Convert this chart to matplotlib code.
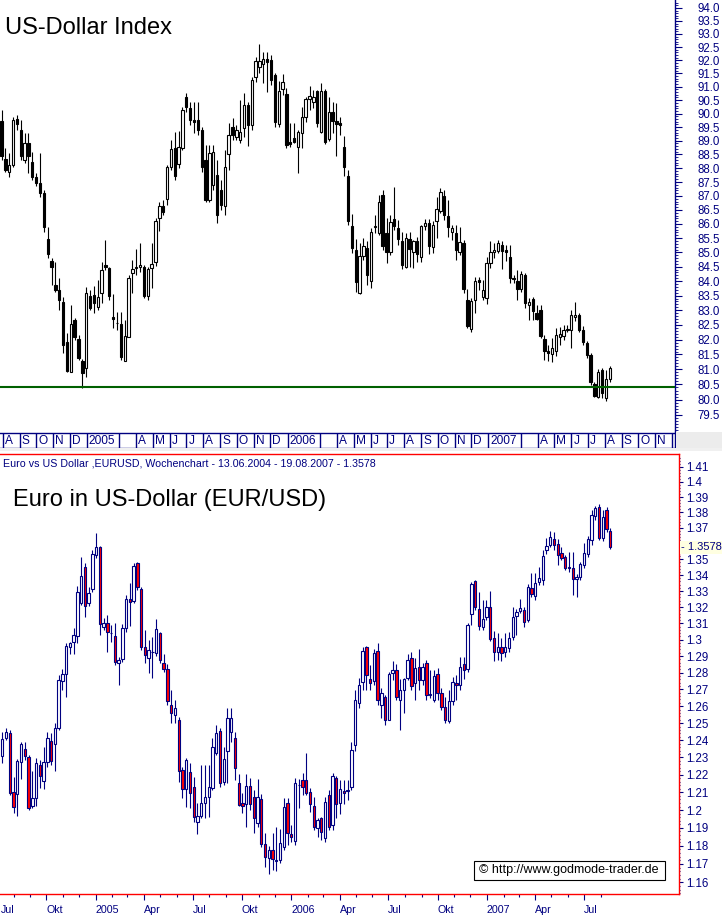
import numpy as np
import matplotlib
matplotlib.use("Agg")
import matplotlib.pyplot as plt
import matplotlib.dates as mdates
import matplotlib.transforms as mtransforms
from matplotlib.patches import Rectangle
from matplotlib.ticker import FixedLocator, NullFormatter

plt.rcParams["font.family"] = ["Liberation Sans", "DejaVu Sans"]

# ---------------- data: US-Dollar Index, weekly ----------------
usd_start = "2004-07-30"
usd_open = [89.71, 88.33, 87.86, 88.11, 89.80, 89.40, 88.30, 88.92, 88.22, 87.68,
            87.46, 87.11, 85.47, 84.70, 83.87, 83.70, 83.28, 81.92, 80.92, 82.67,
            82.02, 81.29, 81.05, 83.49, 83.52, 83.11, 83.59, 84.56, 84.46, 82.77,
            82.57, 82.53, 81.29, 82.09, 84.29, 84.47, 84.49, 84.49, 83.49, 84.46,
            84.67, 86.21, 86.64, 86.89, 88.04, 88.73, 88.15, 88.73, 90.62, 90.21,
            89.76, 89.76, 89.40, 88.30, 86.86, 87.39, 87.76, 87.21, 86.64, 88.52,
            89.51, 89.14, 89.03, 89.47, 90.32, 89.58, 91.37, 91.74, 91.86, 92.05,
            92.01, 91.44, 89.62, 90.92, 90.73, 88.95, 89.10, 88.77, 89.29, 89.87,
            90.54, 90.43, 90.85, 89.32, 90.85, 89.06, 90.06, 89.73, 89.65, 88.77,
            87.72, 85.93, 85.09, 83.59, 84.88, 85.16, 84.01, 85.90, 85.69, 87.04,
            85.69, 85.02, 86.18, 85.86, 85.40, 84.49, 85.47, 85.02, 85.40, 84.84,
            85.93, 86.04, 85.19, 86.11, 86.46, 87.00, 86.29, 85.72, 85.69, 85.02,
            85.33, 83.35, 82.37, 83.35, 84.04, 83.45, 83.42, 84.63, 85.02, 85.05,
            85.26, 85.09, 84.84, 84.11, 84.00, 83.73, 84.21, 83.18, 83.38, 82.91,
            83.01, 82.02, 81.62, 81.52, 81.62, 82.09, 82.12, 82.33, 82.33, 82.77,
            82.84, 82.33, 81.89, 81.49, 80.52, 80.09, 80.99, 80.05, 80.69]
usd_high = [90.14, 88.73, 88.55, 89.87, 89.95, 89.76, 89.29, 89.29, 88.59, 87.82,
            88.55, 87.21, 85.90, 84.81, 84.67, 84.11, 83.45, 82.23, 83.18, 82.74,
            82.16, 81.35, 83.80, 83.70, 83.83, 84.04, 84.67, 85.44, 84.49, 83.56,
            82.94, 82.94, 82.67, 84.21, 84.74, 85.12, 85.33, 84.56, 84.49, 85.33,
            86.21, 86.78, 86.86, 88.11, 89.03, 89.32, 89.36, 90.25, 90.77, 90.43,
            90.43, 90.43, 89.51, 88.84, 88.84, 88.84, 88.30, 87.57, 88.66, 89.65,
            89.84, 89.58, 90.51, 90.77, 90.43, 91.37, 92.12, 92.62, 92.31, 92.31,
            92.20, 91.52, 91.22, 91.48, 90.96, 89.65, 89.65, 89.40, 90.25, 90.62,
            91.03, 90.88, 90.88, 91.14, 90.92, 90.62, 90.43, 90.40, 89.87, 89.17,
            87.94, 86.36, 85.47, 85.33, 85.51, 85.40, 85.86, 86.32, 87.04, 87.21,
            86.21, 86.32, 87.32, 86.14, 85.72, 85.69, 85.72, 85.44, 85.54, 85.97,
            86.18, 86.18, 86.11, 86.96, 87.29, 87.21, 86.86, 85.97, 85.97, 85.90,
            85.44, 83.73, 83.42, 84.14, 84.14, 84.04, 84.84, 85.40, 85.33, 85.44,
            85.40, 85.26, 85.26, 84.21, 84.39, 84.35, 84.28, 83.42, 83.45, 83.18,
            83.18, 82.16, 81.82, 82.06, 82.40, 82.43, 82.50, 82.50, 83.01, 83.28,
            82.91, 82.47, 81.96, 81.55, 80.59, 81.02, 81.05, 80.99, 81.12]
usd_low = [88.30, 87.86, 87.68, 88.05, 89.40, 88.30, 88.19, 87.82, 87.57, 87.36,
           86.96, 85.72, 84.81, 83.87, 83.63, 83.01, 81.55, 80.92, 80.92, 81.99,
           81.32, 80.39, 80.75, 83.01, 82.91, 83.01, 83.25, 84.39, 83.35, 82.40,
           82.33, 81.32, 81.29, 82.09, 83.59, 84.21, 84.32, 83.42, 83.35, 83.76,
           84.53, 85.76, 86.32, 86.68, 87.94, 87.57, 88.00, 88.66, 90.06, 89.58,
           89.29, 89.21, 87.86, 86.78, 86.78, 87.21, 86.04, 86.50, 86.32, 87.94,
           89.03, 89.03, 88.92, 89.14, 88.81, 89.40, 91.18, 91.52, 91.14, 90.81,
           91.07, 89.51, 89.51, 90.69, 88.73, 88.77, 88.92, 87.82, 88.73, 89.69,
           90.14, 90.21, 89.51, 89.29, 88.88, 88.99, 89.29, 88.44, 89.21, 87.72,
           85.97, 84.98, 83.63, 83.56, 84.74, 83.87, 83.76, 85.69, 85.62, 85.09,
           84.63, 84.91, 85.79, 85.26, 84.42, 84.46, 84.49, 84.46, 84.67, 84.67,
           85.79, 84.95, 84.98, 85.51, 86.39, 86.14, 85.54, 85.44, 84.74, 84.91,
           83.59, 82.40, 82.26, 82.91, 83.70, 83.35, 83.21, 84.46, 84.81, 84.98,
           84.42, 84.70, 83.94, 83.94, 83.35, 83.63, 83.08, 82.67, 82.67, 82.67,
           82.06, 81.32, 81.29, 81.25, 81.45, 81.82, 81.99, 82.26, 81.72, 82.64,
           82.26, 81.82, 81.39, 80.49, 80.09, 80.05, 80.05, 79.95, 80.59]
usd_close = [88.46, 87.93, 88.11, 89.76, 89.60, 88.44, 88.92, 88.44, 87.68, 87.46,
             87.11, 85.88, 84.95, 84.49, 83.70, 83.35, 81.82, 80.95, 82.53, 82.09,
             81.39, 80.89, 83.59, 83.08, 83.25, 83.45, 84.39, 84.49, 83.49, 82.70,
             82.55, 81.42, 82.12, 84.11, 84.42, 84.49, 84.56, 83.49, 84.42, 84.60,
             86.11, 86.64, 86.43, 88.04, 88.70, 87.72, 88.77, 90.14, 90.25, 89.76,
             89.69, 89.40, 88.04, 86.86, 88.55, 88.59, 86.32, 86.68, 88.04, 89.21,
             89.21, 89.40, 89.32, 90.32, 89.58, 91.26, 91.97, 91.97, 92.05, 91.93,
             91.26, 89.69, 90.85, 91.18, 88.84, 88.88, 88.96, 89.32, 89.87, 90.54,
             90.66, 90.62, 89.65, 90.85, 88.95, 90.06, 89.73, 89.62, 89.58, 88.04,
             86.11, 85.16, 83.97, 84.88, 85.23, 84.21, 85.72, 85.93, 86.78, 85.23,
             85.02, 86.07, 85.93, 85.47, 84.56, 85.51, 85.12, 85.40, 84.95, 85.93,
             86.04, 85.23, 85.97, 86.53, 87.14, 86.32, 85.90, 85.86, 85.09, 85.37,
             83.73, 82.47, 83.32, 84.01, 83.97, 83.70, 84.63, 85.02, 85.09, 85.33,
             85.05, 85.02, 84.11, 84.07, 83.73, 84.25, 83.25, 83.28, 82.97, 82.70,
             82.12, 81.62, 81.55, 81.72, 82.16, 82.19, 82.33, 82.37, 82.84, 82.84,
             82.33, 81.92, 81.49, 80.59, 80.12, 80.92, 80.22, 80.69, 81.05]
usd_support = 80.4
usd_ticks = np.arange(79.5, 94.01, 0.5)

# ---------------- data: EUR/USD, weekly ----------------
eur_start = "2004-07-11"
eur_open = [1.2310, 1.2413, 1.2442, 1.2102, 1.2091, 1.2273, 1.2349, 1.2302, 1.2023, 1.2068,
            1.2256, 1.2165, 1.2273, 1.2396, 1.2378, 1.2472, 1.2750, 1.2792, 1.2957, 1.2986,
            1.3021, 1.3225, 1.3452, 1.3225, 1.3313, 1.3527, 1.3578, 1.3077, 1.3102, 1.3042,
            1.3021, 1.2858, 1.2882, 1.3071, 1.3250, 1.3238, 1.3477, 1.3313, 1.2957, 1.2888,
            1.2925, 1.2919, 1.3040, 1.2858, 1.2822, 1.2607, 1.2547, 1.2518, 1.2228, 1.2119,
            1.2216, 1.2131, 1.1933, 1.1967, 1.2040, 1.2074, 1.2125, 1.2326, 1.2454, 1.2159,
            1.2337, 1.2448, 1.2413, 1.2153, 1.2040, 1.2034, 1.2136, 1.2074, 1.1927, 1.2063,
            1.1810, 1.1733, 1.1777, 1.1717, 1.1722, 1.1794, 1.2040, 1.1866, 1.1827, 1.2142,
            1.2171, 1.2171, 1.2102, 1.2023, 1.1899, 1.1955, 1.1844, 1.2085, 1.1916, 1.2182,
            1.2040, 1.2108, 1.2114, 1.2131, 1.2372, 1.2619, 1.2744, 1.2957, 1.2762, 1.2750,
            1.2931, 1.2607, 1.2655, 1.2518, 1.2798, 1.2816, 1.2637, 1.2696, 1.2768, 1.2888,
            1.2738, 1.2834, 1.2756, 1.2858, 1.2666, 1.2637, 1.2792, 1.2678, 1.2595, 1.2512,
            1.2631, 1.2738, 1.2726, 1.2852, 1.2822, 1.3158, 1.3364, 1.3188, 1.3077, 1.3139,
            1.3201, 1.3010, 1.2925, 1.2957, 1.2925, 1.2950, 1.3016, 1.3146, 1.3176, 1.3182,
            1.3121, 1.3320, 1.3269, 1.3358, 1.3370, 1.3559, 1.3591, 1.3630, 1.3598, 1.3540,
            1.3514, 1.3451, 1.3445, 1.3376, 1.3389, 1.3464, 1.3533, 1.3623, 1.3778, 1.3835,
            1.3636, 1.3816, 1.3681]
eur_high = [1.2450, 1.2472, 1.2460, 1.2188, 1.2291, 1.2390, 1.2390, 1.2314, 1.2222, 1.2297,
            1.2285, 1.2361, 1.2448, 1.2442, 1.2501, 1.2786, 1.2822, 1.2980, 1.2986, 1.3070,
            1.3333, 1.3514, 1.3477, 1.3327, 1.3559, 1.3668, 1.3585, 1.3133, 1.3152, 1.3090,
            1.3102, 1.2895, 1.3096, 1.3275, 1.3350, 1.3477, 1.3483, 1.3327, 1.3059, 1.2998,
            1.3017, 1.3127, 1.3046, 1.2913, 1.2852, 1.2696, 1.2637, 1.2536, 1.2245, 1.2297,
            1.2268, 1.2188, 1.2040, 1.2256, 1.2256, 1.2256, 1.2413, 1.2489, 1.2472, 1.2361,
            1.2589, 1.2589, 1.2448, 1.2205, 1.2097, 1.2205, 1.2182, 1.2114, 1.2176, 1.2091,
            1.1871, 1.1799, 1.1871, 1.1905, 1.1894, 1.2068, 1.2068, 1.1916, 1.2182, 1.2176,
            1.2211, 1.2326, 1.2125, 1.2074, 1.1955, 1.1961, 1.2074, 1.2114, 1.2211, 1.2193,
            1.2171, 1.2171, 1.2171, 1.2390, 1.2696, 1.2768, 1.2957, 1.2963, 1.2846, 1.2944,
            1.2980, 1.2708, 1.2666, 1.2804, 1.2870, 1.2852, 1.2762, 1.2768, 1.2913, 1.2925,
            1.2888, 1.2944, 1.2858, 1.2876, 1.2816, 1.2816, 1.2828, 1.2708, 1.2655, 1.2696,
            1.2774, 1.2786, 1.2895, 1.2895, 1.3102, 1.3358, 1.3370, 1.3294, 1.3244, 1.3244,
            1.3300, 1.3053, 1.3040, 1.3010, 1.3040, 1.3046, 1.3201, 1.3188, 1.3250, 1.3201,
            1.3346, 1.3413, 1.3413, 1.3452, 1.3559, 1.3636, 1.3681, 1.3674, 1.3630, 1.3578,
            1.3527, 1.3546, 1.3546, 1.3407, 1.3483, 1.3604, 1.3649, 1.3816, 1.3842, 1.3855,
            1.3816, 1.3835, 1.3700]
eur_low = [1.2270, 1.2401, 1.2085, 1.1983, 1.1967, 1.2176, 1.2285, 1.2000, 1.2012, 1.2023,
           1.2125, 1.2119, 1.2245, 1.2256, 1.2222, 1.2460, 1.2696, 1.2655, 1.2913, 1.2913,
           1.2980, 1.3213, 1.3139, 1.3207, 1.3294, 1.3508, 1.3028, 1.3059, 1.2925, 1.2986,
           1.2846, 1.2726, 1.2864, 1.3046, 1.3084, 1.3225, 1.3307, 1.2937, 1.2858, 1.2798,
           1.2768, 1.2901, 1.2858, 1.2804, 1.2607, 1.2500, 1.2500, 1.2159, 1.2068, 1.2017,
           1.2012, 1.1933, 1.1866, 1.1955, 1.1955, 1.1961, 1.2114, 1.2314, 1.2131, 1.2142,
           1.2153, 1.2390, 1.2171, 1.2023, 1.1983, 1.1905, 1.2000, 1.1871, 1.1905, 1.1794,
           1.1684, 1.1645, 1.1667, 1.1661, 1.1706, 1.1777, 1.1805, 1.1821, 1.1805, 1.2012,
           1.2085, 1.2085, 1.1989, 1.1888, 1.1849, 1.1832, 1.1821, 1.1888, 1.1888, 1.1955,
           1.1978, 1.2034, 1.2057, 1.2114, 1.2337, 1.2589, 1.2696, 1.2696, 1.2696, 1.2726,
           1.2607, 1.2530, 1.2489, 1.2518, 1.2756, 1.2637, 1.2460, 1.2559, 1.2756, 1.2696,
           1.2637, 1.2696, 1.2726, 1.2637, 1.2649, 1.2625, 1.2637, 1.2577, 1.2501, 1.2501,
           1.2607, 1.2637, 1.2696, 1.2762, 1.2804, 1.3090, 1.3182, 1.3059, 1.3059, 1.3121,
           1.2992, 1.2870, 1.2876, 1.2870, 1.2895, 1.2925, 1.2998, 1.3028, 1.3164, 1.3077,
           1.3108, 1.3263, 1.3244, 1.3339, 1.3339, 1.3533, 1.3578, 1.3559, 1.3464, 1.3495,
           1.3432, 1.3420, 1.3275, 1.3263, 1.3370, 1.3445, 1.3514, 1.3591, 1.3751, 1.3623,
           1.3617, 1.3674, 1.3565]
eur_close = [1.2410, 1.2448, 1.2097, 1.2017, 1.2279, 1.2378, 1.2308, 1.2012, 1.2068, 1.2268,
             1.2193, 1.2273, 1.2413, 1.2279, 1.2472, 1.2756, 1.2792, 1.2963, 1.2980, 1.3027,
             1.3294, 1.3395, 1.3207, 1.3288, 1.3533, 1.3578, 1.3096, 1.3102, 1.3046, 1.3040,
             1.2864, 1.2876, 1.3071, 1.3250, 1.3232, 1.3458, 1.3327, 1.2957, 1.2907, 1.2937,
             1.2925, 1.3065, 1.2876, 1.2822, 1.2630, 1.2559, 1.2589, 1.2222, 1.2119, 1.2285,
             1.2097, 1.1961, 1.1967, 1.2040, 1.2074, 1.2131, 1.2361, 1.2442, 1.2153, 1.2291,
             1.2530, 1.2530, 1.2239, 1.2028, 1.2023, 1.2136, 1.2034, 1.1955, 1.2074, 1.1810,
             1.1739, 1.1777, 1.1728, 1.1722, 1.1816, 1.2017, 1.1871, 1.1849, 1.2153, 1.2142,
             1.2131, 1.2097, 1.2034, 1.1905, 1.1944, 1.1877, 1.2045, 1.1905, 1.2193, 1.2034,
             1.2119, 1.2097, 1.2108, 1.2343, 1.2637, 1.2726, 1.2931, 1.2786, 1.2738, 1.2919,
             1.2637, 1.2678, 1.2518, 1.2792, 1.2816, 1.2655, 1.2696, 1.2762, 1.2876, 1.2720,
             1.2828, 1.2756, 1.2834, 1.2666, 1.2672, 1.2780, 1.2678, 1.2595, 1.2518, 1.2631,
             1.2744, 1.2726, 1.2834, 1.2816, 1.3090, 1.3346, 1.3201, 1.3084, 1.3127, 1.3201,
             1.3004, 1.2925, 1.2957, 1.2919, 1.2957, 1.3010, 1.3139, 1.3170, 1.3195, 1.3108,
             1.3327, 1.3282, 1.3352, 1.3383, 1.3521, 1.3585, 1.3643, 1.3591, 1.3527, 1.3508,
             1.3445, 1.3445, 1.3376, 1.3389, 1.3470, 1.3540, 1.3630, 1.3784, 1.3829, 1.3636,
             1.3771, 1.3694, 1.3578]
eur_last = "1.3578"
eur_ticks = [round(1.16 + 0.01 * k, 2) for k in range(26) if k != 20]  # 1.36 hidden by last-price tag

# ---------------- layout helpers ----------------
W, H = 722, 919
NAVY = "#000080"
fig = plt.figure(figsize=(W / 100, H / 100), dpi=100)


def box(x0, y0, x1, y1):
    # pixel rectangle (origin top-left) -> axes
    return fig.add_axes([x0 / W, 1 - y1 / H, (x1 - x0) / W, (y1 - y0) / H])


def fy(y):
    return 1 - y / H


def candles(ax, start, o, h, l, c, width, edge, up_fill, down_fill):
    o, h, l, c = map(np.asarray, (o, h, l, c))
    d = np.datetime64(start) + np.arange(len(c)) * np.timedelta64(7, "D")
    x = mdates.date2num(d)
    ax.vlines(x, l, h, color=edge, lw=0.8, zorder=2)
    up = c >= o
    fills = [up_fill if u else down_fill for u in up]
    ax.bar(x, np.abs(c - o), width, bottom=np.minimum(o, c), color=fills,
           edgecolor=edge, linewidth=0.8, zorder=3)


# ---------------- top panel: US-Dollar Index ----------------
ppd_top = 3.85 / 7          # pixels per day
t0 = mdates.date2num(np.datetime64(usd_start)) - 1.5 / ppd_top
t1 = t0 + 675 / ppd_top

ax1 = box(0, 0, 675, 432)
ax1.set_yscale("log")
candles(ax1, usd_start, usd_open, usd_high, usd_low, usd_close, 4.2, "black", "white", "black")
ax1.axhline(usd_support, color="#006000", lw=1.5, zorder=4)
ax1.set_xlim(t0, t1)
ax1.set_ylim(78.94, 94.31)
ax1.set_xticks([])
ax1.yaxis.tick_right()
ax1.yaxis.set_major_locator(FixedLocator(usd_ticks))
ax1.set_yticklabels([f"{v:.1f}" for v in usd_ticks])
ax1.yaxis.set_minor_locator(FixedLocator(np.arange(79.0, 94.3, 0.1)))
ax1.yaxis.set_minor_formatter(NullFormatter())
ax1.tick_params(axis="y", which="major", length=4.8, width=0.8, color=NAVY,
                labelcolor=NAVY, labelsize=8.3, pad=11.5)
ax1.tick_params(axis="y", which="minor", length=2.0, width=0.6, color=NAVY)
for s in ("left", "top", "bottom"):
    ax1.spines[s].set_visible(False)
ax1.spines["right"].set_color(NAVY)
ax1.spines["right"].set_linewidth(1)
ax1.text(5 / 675, 1 - 28 / 432, "US-Dollar Index", transform=ax1.transAxes,
         fontsize=17, va="center", ha="left", color="black")

# month bar under the top panel
axm = box(0, 432.5, 675, 448)
axm.set_xlim(t0, t1)
axm.set_ylim(0, 1)
axm.set_xticks([])
axm.set_yticks([])
axm.spines["left"].set_visible(False)
for s in ("top", "bottom", "right"):
    axm.spines[s].set_color(NAVY)
    axm.spines[s].set_linewidth(1)
months = np.arange(np.datetime64("2004-08"), np.datetime64("2007-12") + 1)
for m in months:
    mo = int(str(m)[5:7])
    if mo == 2:
        continue
    xm = mdates.date2num(m.astype("datetime64[D]"))
    axm.axvline(xm, color=NAVY, lw=1)
    if mo == 1:
        lab = str(m)[:4]
    elif mo == 3:
        lab = ""
    else:
        lab = "JFMAMJJASOND"[mo - 1]
    axm.text(xm + 2 / ppd_top, 0.45, lab, fontsize=8.6, color=NAVY, va="center", ha="left")

fig.patches.append(Rectangle((676 / W, fy(448)), 46 / W, 16 / H, transform=fig.transFigure,
                             facecolor="#ECECEC", edgecolor="none"))
fig.patches.append(Rectangle((0, fy(451)), 1, 3 / H, transform=fig.transFigure,
                             facecolor="#F0F0F0", edgecolor="none"))

# ---------------- bottom panel: EUR/USD ----------------
ppd_bot = 3.753 / 7
b0 = mdates.date2num(np.datetime64(eur_start)) - 2.3 / ppd_bot
b1 = b0 + 679 / ppd_bot

ax2 = box(0, 454, 679, 894)
ax2.set_yscale("log")
candles(ax2, eur_start, eur_open, eur_high, eur_low, eur_close, 4.4, NAVY, "white", "#FF0000")
ax2.set_xlim(b0, b1)
ax2.set_ylim(1.15361, 1.41844)
ax2.yaxis.tick_right()
ax2.yaxis.set_major_locator(FixedLocator(eur_ticks))
ax2.set_yticklabels([f"{v:g}" for v in eur_ticks])
ax2.yaxis.set_minor_locator(FixedLocator(np.arange(1.154, 1.418, 0.002)))
ax2.yaxis.set_minor_formatter(NullFormatter())
ax2.tick_params(axis="y", which="major", length=3.0, width=0.8, color=NAVY,
                labelcolor=NAVY, labelsize=8.3, pad=2.5)
ax2.tick_params(axis="y", which="minor", length=1.0, width=0.8, color=NAVY)
ax2.spines["left"].set_visible(False)
for s in ("top", "right", "bottom"):
    ax2.spines[s].set_color("#FF0000")
    ax2.spines[s].set_linewidth(1)

eur_months = np.arange(np.datetime64("2004-07"), np.datetime64("2007-08") + 1)
major_x, minor_x, labels = [], [], []
names = {1: None, 4: "Apr", 7: "Jul", 10: "Okt"}
for m in eur_months:
    mo = int(str(m)[5:7])
    xm = mdates.date2num(m.astype("datetime64[D]"))
    if mo in names:
        major_x.append(xm)
        labels.append((xm, str(m)[:4] if mo == 1 else names[mo]))
    else:
        minor_x.append(xm)
ax2.xaxis.set_major_locator(FixedLocator(major_x))
ax2.xaxis.set_minor_locator(FixedLocator(minor_x))
ax2.xaxis.set_major_formatter(NullFormatter())
ax2.tick_params(axis="x", which="major", length=4.0, width=0.8, color=NAVY)
ax2.tick_params(axis="x", which="minor", length=2.0, width=0.8, color=NAVY)
tr = mtransforms.blended_transform_factory(ax2.transData, fig.transFigure)
for xm, lab in labels:
    # first label sits at the left edge of the panel
    ax2.text(max(xm, b0 + 0.5 / ppd_bot), fy(910), lab, transform=tr, fontsize=7.7,
             color=NAVY, va="center", ha="left", clip_on=False)

fig.text(3 / W, fy(463), "Euro vs US Dollar ,EURUSD, Wochenchart - 13.06.2004 - 19.08.2007 - "
         + eur_last, fontsize=7.7, color=NAVY, va="center", ha="left")
fig.text(13 / W, fy(500), "Euro in US-Dollar (EUR/USD)", fontsize=17, va="center",
         ha="left", color="black")

# last price tag on the right axis
fig.patches.append(Rectangle((680 / W, fy(554)), 42 / W, 13 / H, transform=fig.transFigure,
                             facecolor="#FFFFE1", edgecolor="none"))
fig.text(681 / W, fy(547.5), "- " + eur_last, fontsize=8, color=NAVY, va="center", ha="left")

# copyright box
fig.patches.append(Rectangle((473.5 / W, fy(880)), 191.5 / W, 19 / H, transform=fig.transFigure,
                             facecolor="white", edgecolor="black", linewidth=0.8))
fig.text(569 / W, fy(870.5), "\u00a9 http://www.godmode-trader.de", fontsize=9,
         color="black", va="center", ha="center")

fig.savefig("out.png", dpi=100)
